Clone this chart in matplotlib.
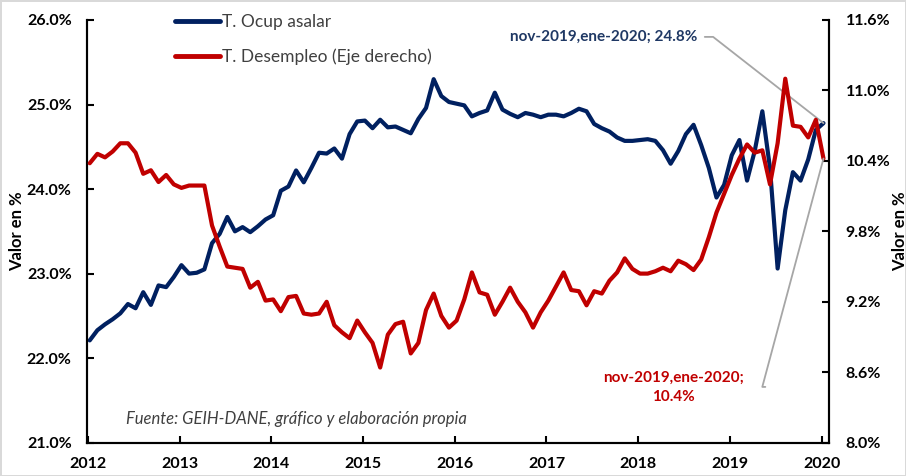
import numpy as np
import matplotlib
matplotlib.use("Agg")
import matplotlib.pyplot as plt
from matplotlib.ticker import FuncFormatter, FixedLocator

# ---- data (monthly rolling quarters, Jan-2012 .. Jan-2020) ----
ocup_asalar = [22.21, 22.33, 22.40, 22.46, 22.53, 22.64, 22.59, 22.78, 22.63, 22.86,
               22.84, 22.96, 23.10, 23.00, 23.01, 23.05, 23.36, 23.47, 23.67, 23.50,
               23.55, 23.49, 23.56, 23.64, 23.69, 23.98, 24.03, 24.22, 24.08, 24.25,
               24.43, 24.42, 24.48, 24.36, 24.65, 24.80, 24.81, 24.72, 24.82, 24.73,
               24.74, 24.70, 24.66, 24.83, 24.96, 25.30, 25.10, 25.03, 25.01, 24.99,
               24.86, 24.90, 24.93, 25.14, 24.94, 24.89, 24.85, 24.90, 24.88, 24.85,
               24.88, 24.88, 24.86, 24.90, 24.95, 24.92, 24.77, 24.72, 24.68, 24.61,
               24.57, 24.57, 24.58, 24.59, 24.57, 24.46, 24.30, 24.45, 24.65, 24.76,
               24.52, 24.25, 23.90, 24.05, 24.40, 24.58, 24.10, 24.45, 24.92, 24.25,
               23.06, 23.75, 24.20, 24.10, 24.35, 24.70, 24.78]

desempleo = [10.38, 10.46, 10.43, 10.48, 10.55, 10.55, 10.47, 10.29, 10.32, 10.22,
             10.28, 10.20, 10.17, 10.19, 10.19, 10.19, 9.85, 9.67, 9.50, 9.49,
             9.48, 9.32, 9.37, 9.21, 9.22, 9.12, 9.24, 9.25, 9.10, 9.09,
             9.10, 9.20, 9.00, 8.94, 8.89, 9.04, 8.94, 8.85, 8.64, 8.92,
             9.01, 9.03, 8.76, 8.85, 9.13, 9.27, 9.08, 8.98, 9.04, 9.22,
             9.45, 9.28, 9.26, 9.09, 9.20, 9.32, 9.20, 9.11, 8.98, 9.11,
             9.21, 9.33, 9.45, 9.30, 9.29, 9.17, 9.29, 9.27, 9.38, 9.45,
             9.57, 9.48, 9.44, 9.44, 9.46, 9.49, 9.46, 9.55, 9.52, 9.47,
             9.56, 9.75, 9.96, 10.12, 10.28, 10.42, 10.54, 10.47, 10.49, 10.20,
             10.55, 11.10, 10.70, 10.69, 10.60, 10.75, 10.42]

start_year = 2012
year_ticks = [2012, 2013, 2014, 2015, 2016, 2017, 2018, 2019, 2020]
left_ticks = [21.0, 22.0, 23.0, 24.0, 25.0, 26.0]
right_ticks = [8.0, 8.6, 9.2, 9.8, 10.4, 11.0, 11.6]
label_series1 = "T. Ocup asalar"
label_series2 = "T. Desempleo (Eje derecho)"
annot_blue = "nov-2019,ene-2020; 24.8%"
annot_red = "nov-2019,ene-2020;\n10.4%"
source_text = "Fuente: GEIH-DANE, gráfico y elaboración propia"

BLUE = "#002060"
RED = "#C00000"
FONT = ["Lato", "DejaVu Sans"]
plt.rcParams['font.family'] = FONT

n = len(ocup_asalar)
t = start_year + 0.02 + np.arange(n) / 12.0

fig = plt.figure(figsize=(9.06, 4.76), dpi=100)
fig.patch.set_facecolor("white")
fig.patch.set_edgecolor("#d9d9d9")
fig.patch.set_linewidth(1.0)

ax = fig.add_axes([0.096, 0.070, 0.819, 0.888])
ax2 = ax.twinx()

l1, = ax.plot(t, ocup_asalar, color=BLUE, lw=3.0, solid_joinstyle="round",
              solid_capstyle="round", zorder=3)
l2, = ax2.plot(t, desempleo, color=RED, lw=3.0, solid_joinstyle="round",
               solid_capstyle="round", zorder=3)

ax.set_xlim(2011.99, 2020.08)
ax.set_ylim(21.0, 26.0)
ax2.set_ylim(8.0, 11.6)

ax.xaxis.set_major_locator(FixedLocator(year_ticks))
ax.set_xticklabels([str(y) for y in year_ticks])
ax.yaxis.set_major_locator(FixedLocator(left_ticks))
ax2.yaxis.set_major_locator(FixedLocator(right_ticks))
pct = FuncFormatter(lambda v, p: f"{v:.1f}%")
ax.yaxis.set_major_formatter(pct)
ax2.yaxis.set_major_formatter(pct)

for a in (ax, ax2):
    a.spines["top"].set_visible(False)
    for s in ("left", "right", "bottom"):
        a.spines[s].set_linewidth(1.5)
        a.spines[s].set_color("black")
    a.set_facecolor("none")

ax.tick_params(axis="x", direction="in", length=5, width=1.5, pad=10,
               labelsize=11.5, colors="black")
ax.tick_params(axis="y", direction="in", length=5, width=1.5, pad=11,
               labelsize=11.5)
ax2.tick_params(axis="y", direction="in", length=5, width=1.5, pad=12,
                labelsize=11.5)
for lab in ax.get_xticklabels() + ax.get_yticklabels() + ax2.get_yticklabels():
    lab.set_fontweight("bold")

ax.set_ylabel("Valor en %", fontsize=12, fontweight="bold", labelpad=1)
ax2.set_ylabel("Valor en %", fontsize=12, fontweight="bold", rotation=90,
               labelpad=1)

leg = ax.legend([l1, l2], [label_series1, label_series2],
                loc="upper left", bbox_to_anchor=(0.098, 1.05),
                frameon=False, fontsize=12.5, handlelength=2.6,
                handletextpad=0.1, labelspacing=1.05)
for txt in leg.get_texts():
    txt.set_color("#404040")
for h in leg.legend_handles:
    h.set_linewidth(3.5)

# annotations with leader lines
xb, yb = t[-1], ocup_asalar[-1]
ax.annotate(annot_blue, xy=(xb, yb), xycoords="data",
            xytext=(2018.65, 25.80), textcoords="data",
            ha="right", va="center", fontsize=11, fontweight="bold",
            color="#1F3864",
            arrowprops=dict(arrowstyle="-", color="#a6a6a6", lw=1.3,
                            shrinkA=3, shrinkB=0,
                            connectionstyle="angle,angleA=0,angleB=-38,rad=0"),
            zorder=5)
xr, yr = t[-1], desempleo[-1]
ax2.annotate(annot_red, xy=(xr, yr), xycoords="data",
             xytext=(2018.38, 8.47), textcoords="data",
             ha="center", va="center", fontsize=11, fontweight="bold",
             color=RED, linespacing=1.45, zorder=5)
ax2.annotate("", xy=(xr, yr), xycoords="data",
             xytext=(2019.386, 8.475), textcoords="data",
             arrowprops=dict(arrowstyle="-", color="#a6a6a6", lw=1.3,
                             shrinkA=0, shrinkB=0,
                             connectionstyle="angle,angleA=0,angleB=75,rad=0"),
             zorder=5)

ax.text(0.053, 0.057, source_text, transform=ax.transAxes, fontsize=12,
        style="italic", color="#404040", ha="left", va="center")

fig.savefig("out.png", dpi=100, facecolor=fig.get_facecolor(),
            edgecolor=fig.get_edgecolor())
